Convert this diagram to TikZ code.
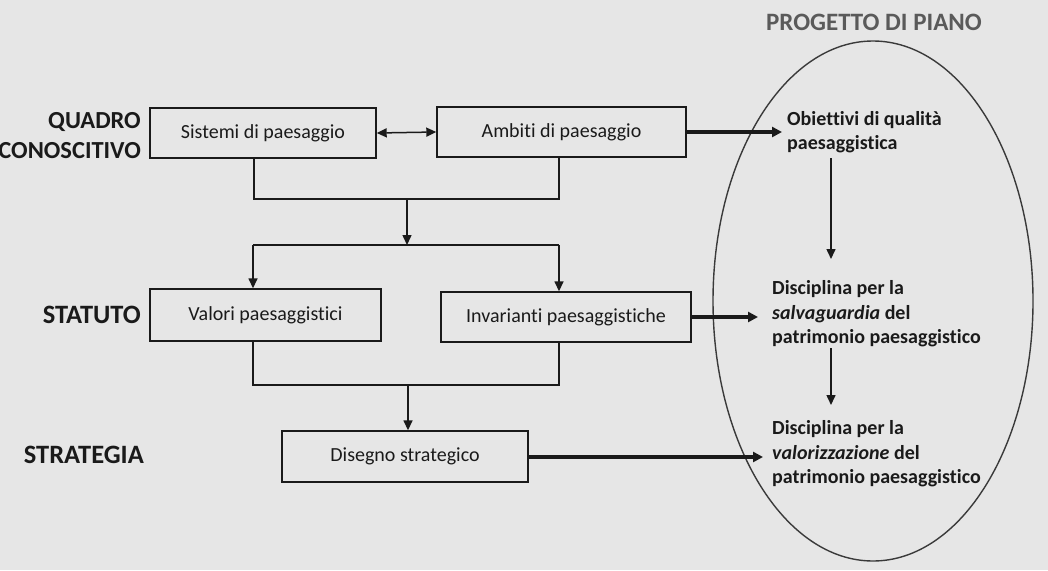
\documentclass[tikz,border=0pt]{standalone}
\usepackage{fontspec}
\setmainfont{Carlito}[Ligatures=NoCommon]
\usetikzlibrary{arrows.meta}
\definecolor{bgcol}{HTML}{E6E6E6}
\definecolor{inkcol}{HTML}{1A1A1A}
\definecolor{ellcol}{HTML}{3A3A3A}
\definecolor{titlecol}{HTML}{5A5A5A}
\tikzset{
  boxnode/.style={draw=inkcol, line width=1.4pt, fill=bgcol, inner sep=0pt,
    font=\fontsize{20}{24}\selectfont, text=inkcol},
  sidelabel/.style={anchor=east, align=right, inner sep=0pt, text=inkcol,
    font=\bfseries\fontsize{25}{30}\selectfont},
  goaltext/.style={anchor=west, align=left, inner sep=0pt, text=inkcol,
    font=\bfseries\fontsize{20}{24.5}\selectfont},
  link/.style={draw=inkcol, line width=1.5pt},
  linkarrow/.style={link, -{Triangle[length=10pt,width=9pt]}},
  thickarrow/.style={draw=inkcol, line width=3.2pt, -{Triangle[length=10pt,width=10pt]}},
}
\begin{document}
\begin{tikzpicture}[x=1pt,y=-1pt]
\fill[bgcol] (0,0) rectangle (1048,570);
\useasboundingbox (0,0) rectangle (1048,570);

% side labels
\node[sidelabel, font=\bfseries\fontsize{24.5}{30}\selectfont] (quadro) at (141,136) {QUADRO\\CONOSCITIVO};
\node[sidelabel, font=\bfseries\fontsize{26.5}{30}\selectfont] (statuto) at (141,315) {STATUTO};
\node[sidelabel, font=\bfseries\fontsize{26.5}{30}\selectfont] (strategia) at (144,455) {STRATEGIA};

% boxes
\node[boxnode, minimum width=226pt, minimum height=50pt] (sist) at (263,133) {Sistemi di paesaggio};
\node[boxnode, minimum width=249pt, minimum height=50pt] (amb) at (561.5,132) {Ambiti di paesaggio};
\node[boxnode, minimum width=231pt, minimum height=52pt] (val) at (265.5,315) {Valori paesaggistici};
\node[boxnode, minimum width=250pt, minimum height=50pt] (inv) at (566,317) {Invarianti paesaggistiche};
\node[boxnode, minimum width=246pt, minimum height=51pt] (dis) at (405,456.5) {Disegno strategico};

% connector coordinates
\coordinate (j1) at (254,199);
\coordinate (j2) at (559,199);
\coordinate (jm) at (407,199);
\coordinate (jb) at (407,245);
\coordinate (k1) at (253,245);
\coordinate (k2) at (559,245);
\coordinate (m1) at (253,385);
\coordinate (m2) at (559,385);
\coordinate (mm) at (408,385);

\draw[link, {Triangle[length=10pt,width=9pt]}-{Triangle[length=10pt,width=9pt]}] (sist.east) -- (amb.west);
\draw[link] (sist.south -| j1) |- (j2) -- (amb.south -| j2);
\draw[linkarrow] (jm) -- (jb);
\draw[link] (k1) -- (k2);
\draw[linkarrow] (k1) -- (val.north -| k1);
\draw[linkarrow] (k2) -- (inv.north -| k2);
\draw[link] (val.south -| m1) -- (m1) -- (m2) -- (inv.south -| m2);
\draw[linkarrow] (mm) -- (dis.north -| mm);

% plan ellipse
\node[text=titlecol, font=\bfseries\fontsize{25}{30}\selectfont, inner sep=0pt] (titolo) at (874,22) {PROGETTO DI PIANO};
\draw[ellcol, line width=1.4pt] (873,301) ellipse [x radius=160pt, y radius=260pt];

\node[goaltext] (obj) at (787,132) {Obiettivi di qualità\\paesaggistica};
\node[goaltext] (sal) at (772,314) {Disciplina per la\\\textit{salvaguardia} del\\patrimonio paesaggistico};
\node[goaltext] (valo) at (772,454) {Disciplina per la\\\textit{valorizzazione} del\\patrimonio paesaggistico};

\draw[thickarrow, shorten >=5pt] (amb.east) -- (obj.west);
\draw[thickarrow, shorten >=14pt] (inv.east) -- (inv.east -| sal.west);
\draw[thickarrow, shorten >=9pt] (dis.east |- 0,457) -- (valo.west |- 0,457);

\coordinate (v1a) at (831,158);
\coordinate (v1b) at (831,259);
\coordinate (v2a) at (831,348);
\coordinate (v2b) at (831,405);
\draw[linkarrow] (v1a) -- (v1b);
\draw[linkarrow] (v2a) -- (v2b);
\end{tikzpicture}
\end{document}
